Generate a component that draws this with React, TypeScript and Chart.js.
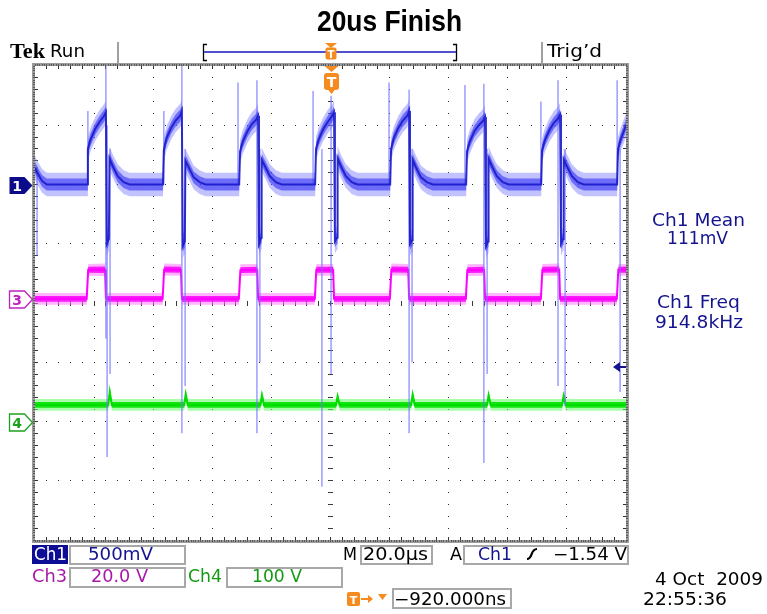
import React, { useEffect, useRef } from 'react';
import { Chart, registerables } from 'chart.js';

Chart.register(...registerables);

const W = 767;
const H = 614;

// ---------- scope settings ----------
const TIME_MIN_US = -100; // 10 div x 20 µs/div, trigger at centre
const TIME_MAX_US = 100;
const CH1_VOLTS_PER_DIV = 0.5;
const CH1_POSITION_DIV = 2;
const CH3_VOLTS_PER_DIV = 20;
const CH3_POSITION_DIV = 0.07;
const CH4_VOLTS_PER_DIV = 100;
const CH4_POSITION_DIV = -2;
const CH1_TRIGGER_V = -1.54;

// ---------- Ch1 (500 mV/div) ----------
const ch1TimeUs = [
  -100, -99.0, -97.6, -96.0,
  -82.4, -82.1, -81.2, -79.6, -78.1, -76.6, -76.0, -75.7, -75.0, -74.8, -73.6, -72.0, -70.0, -68.0,
  -56.7, -56.4, -55.5, -53.9, -52.4, -50.9, -50.3, -50.0, -49.3, -49.1, -47.9, -46.3, -44.3, -42.3,
  -30.9, -30.6, -29.7, -28.1, -26.6, -25.1, -24.5, -24.2, -23.5, -23.3, -22.1, -20.5, -18.5, -16.5,
  -5.2, -4.9, -4.0, -2.4, -0.9, 0.6, 1.2, 1.5, 2.2, 2.4, 3.6, 5.2, 7.2, 9.2,
  20.2, 20.5, 21.4, 23.0, 24.5, 26.0, 26.6, 26.9, 27.6, 27.8, 29.0, 30.6, 32.6, 34.6,
  45.9, 46.2, 47.1, 48.7, 50.2, 51.7, 52.3, 52.6, 53.3, 53.5, 54.7, 56.3, 58.3, 60.3,
  71.3, 71.6, 72.5, 74.1, 75.6, 77.1, 77.7, 78.0, 78.7, 78.9, 80.1, 81.7, 83.7, 85.7,
  97.0, 97.3, 98.2, 100,
];
const ch1Volts = [
  0.14, 0.09, 0.03, 0,
  0, 0.30, 0.38, 0.47, 0.53, 0.58, 0.61, -0.50, -0.46, 0.22, 0.15, 0.07, 0.02, 0,
  0, 0.29, 0.39, 0.48, 0.54, 0.58, 0.62, -0.52, -0.48, 0.20, 0.14, 0.06, 0.02, 0,
  0, 0.28, 0.36, 0.45, 0.51, 0.55, 0.58, -0.50, -0.45, 0.21, 0.15, 0.07, 0.02, 0,
  0, 0.30, 0.38, 0.47, 0.53, 0.58, 0.61, -0.48, -0.45, 0.22, 0.15, 0.07, 0.02, 0,
  0, 0.30, 0.39, 0.48, 0.54, 0.58, 0.62, -0.50, -0.47, 0.21, 0.14, 0.06, 0.02, 0,
  0, 0.28, 0.36, 0.45, 0.50, 0.54, 0.57, -0.52, -0.48, 0.22, 0.15, 0.07, 0.02, 0,
  0, 0.29, 0.37, 0.46, 0.52, 0.56, 0.59, -0.50, -0.46, 0.21, 0.15, 0.07, 0.02, 0,
  0, 0.30, 0.38, 0.50,
];

// Ch1 switching spikes (thin vertical excursions)
const ch1SpikeTimeUs = [-99.3, -82.1, -76.0, -75.6, -74.6, -56.4, -50.3, -49.2, -31.3, -24.9, -23.9, -5.9, -2.9, 0.2, 19.8, 26.6, 27.6, 45.5, 51.9, 53.0, 71.2, 77.0, 79.4, 97.0, 98.0];
const ch1SpikeTopV = [0.15, 0.62, 1.0, 0.5, 0.3, 0.62, 1.0, 0.3, 0.86, 0.88, 0.3, 0.79, 0.3, 0.75, 0.86, 0.80, 0.3, 0.84, 0.85, 0.3, 0.70, 0.88, 0.3, 0.88, 0.3];
const ch1SpikeBottomV = [-0.6, 0, -1.3, -2.3, -1.6, 0, -2.1, -1.7, 0, -2.1, -1.5, 0, -2.55, -1.6, 0, -2.1, -1.5, 0, -2.35, -1.6, 0, -1.7, -1.87, 0, -1.75];

// ---------- Ch3 (20 V/div) ----------
const ch3TimeUs = [
  -100, -82.5, -82.0, -76.3, -76.0,
  -56.8, -56.3, -50.6, -50.3,
  -31.0, -30.5, -24.8, -24.5,
  -5.3, -4.8, 0.9, 1.2,
  20.1, 20.6, 26.3, 26.6,
  45.8, 46.3, 52.0, 52.3,
  71.2, 71.7, 77.4, 77.7,
  96.9, 97.4, 100,
];
const ch3Volts = [
  0, 0, 9.8, 9.9, 0,
  0, 9.9, 9.8, 0,
  0, 9.7, 9.8, 0,
  0, 9.8, 9.8, 0,
  0, 9.9, 9.8, 0,
  0, 9.7, 9.8, 0,
  0, 9.8, 9.9, 0,
  0, 9.8, 9.8,
];

// ---------- Ch4 (100 V/div) ----------
const ch4TimeUs = [-100, -75.2, -74.7, -74.0, -49.5, -49.0, -48.3, -23.7, -23.2, -22.5, 1.9, 2.4, 3.1, 27.3, 27.8, 28.5, 53.0, 53.5, 54.2, 78.4, 78.9, 79.6, 100];
const ch4Volts = [28, 28, 50, 28, 28, 46, 28, 28, 44, 28, 28, 42, 28, 28, 45, 28, 28, 44, 28, 28, 43, 28, 28];

// ---------- readout texts ----------
const TITLE = '20us Finish';
const CH1_SCALE_TEXT = '500mV';
const CH3_SCALE_TEXT = '20.0 V';
const CH4_SCALE_TEXT = '100 V';
const TIMEBASE_TEXT = '20.0µs';
const TRIGGER_TEXT = '\u22121.54 V';
const DELAY_TEXT = '\u2212920.000ns';
const DATE_TEXT = '4 Oct  2009';
const TIME_TEXT = '22:55:36';
const MEAS = [
  ['Ch1 Mean', '111mV'],
  ['Ch1 Freq', '914.8kHz'],
];

// ---------- helpers ----------
function toPoints(times: number[], volts: number[], vpd: number, pos: number, offsetDiv = 0) {
  return times.map((t, i) => ({ x: t, y: pos + volts[i] / vpd + offsetDiv }));
}

function spikePoints() {
  const out: any[] = [];
  ch1SpikeTimeUs.forEach((t, i) => {
    out.push({ x: t, y: CH1_POSITION_DIV + ch1SpikeTopV[i] / CH1_VOLTS_PER_DIV });
    out.push({ x: t, y: CH1_POSITION_DIV + ch1SpikeBottomV[i] / CH1_VOLTS_PER_DIV });
    out.push({ x: t, y: null });
  });
  return out;
}

function band(times: number[], volts: number[], vpd: number, pos: number, half: number, color: string, order: number) {
  return [
    { data: toPoints(times, volts, vpd, pos, half), borderWidth: 0, borderColor: 'transparent', fill: false, order, pointRadius: 0 },
    { data: toPoints(times, volts, vpd, pos, -half), borderWidth: 0, borderColor: 'transparent', fill: '-1', backgroundColor: color, order, pointRadius: 0 },
  ];
}

function txt(ctx: CanvasRenderingContext2D, s: string, x: number, y: number, font: string, color: string, w?: number) {
  ctx.save();
  ctx.font = font;
  ctx.fillStyle = color;
  ctx.textAlign = 'left';
  ctx.textBaseline = 'alphabetic';
  if (w) {
    const m = ctx.measureText(s).width || 1;
    ctx.translate(x, y);
    ctx.scale(w / m, 1);
    ctx.fillText(s, 0, 0);
  } else {
    ctx.fillText(s, x, y);
  }
  ctx.restore();
}

function rrect(ctx: CanvasRenderingContext2D, x: number, y: number, w: number, h: number, r: number) {
  ctx.beginPath();
  ctx.moveTo(x + r, y);
  ctx.lineTo(x + w - r, y);
  ctx.quadraticCurveTo(x + w, y, x + w, y + r);
  ctx.lineTo(x + w, y + h - r);
  ctx.quadraticCurveTo(x + w, y + h, x + w - r, y + h);
  ctx.lineTo(x + r, y + h);
  ctx.quadraticCurveTo(x, y + h, x, y + h - r);
  ctx.lineTo(x, y + r);
  ctx.quadraticCurveTo(x, y, x + r, y);
  ctx.closePath();
}

const ORANGE = '#f58a1f';
const NAVY = '#14148f';
const MAGENTA_TXT = '#a818a8';
const GREEN_TXT = '#139a13';
const RO_FONT = '17px "DejaVu Sans"';

const bgPlugin = {
  id: 'tekBg',
  beforeDraw(chart: any) {
    const ctx = chart.ctx;
    ctx.save();
    ctx.fillStyle = '#ffffff';
    ctx.fillRect(0, 0, chart.width, chart.height);
    ctx.restore();
  },
};

const gridPlugin = {
  id: 'tekGrid',
  beforeDatasetsDraw(chart: any) {
    const ctx = chart.ctx;
    const { left: l, top: t, right: r, bottom: b } = chart.chartArea;
    const dx = (r - l) / 10;
    const dy = (b - t) / 8;
    ctx.save();
    ctx.fillStyle = '#2a2a2a';
    for (let i = 1; i < 10; i++) {
      const x = Math.floor(l + i * dx);
      for (let k = 1; k < 40; k++) ctx.fillRect(x, Math.floor(t + (k * dy) / 5), 1, 1);
    }
    for (let j = 1; j < 8; j++) {
      const y = Math.floor(t + j * dy);
      for (let k = 1; k < 50; k++) ctx.fillRect(Math.floor(l + (k * dx) / 5), y, 1, 1);
    }
    // centre cross ticks
    const cx = Math.floor(l + 5 * dx);
    const cy = Math.floor(t + 4 * dy);
    ctx.fillStyle = '#3a3a3a';
    for (let k = 1; k < 40; k++) ctx.fillRect(cx - 2, Math.floor(t + (k * dy) / 5), 5, 1);
    for (let k = 1; k < 50; k++) ctx.fillRect(Math.floor(l + (k * dx) / 5), cy - 2, 1, 5);
    // frame
    ctx.fillStyle = '#9a9a9a';
    ctx.fillRect(l - 3, t - 3, r - l + 6, 3);
    ctx.fillRect(l - 3, b, r - l + 6, 3);
    ctx.fillRect(l - 3, t - 3, 3, b - t + 6);
    ctx.fillRect(r, t - 3, 3, b - t + 6);
    // fine comb on frame
    ctx.fillStyle = '#5a5a5a';
    for (let k = 0; k <= 250; k++) {
      const x = Math.floor(l + (k * dx) / 25);
      ctx.fillRect(x, t - 2, 1, 2);
      ctx.fillRect(x, b, 1, 2);
    }
    for (let k = 0; k <= 200; k++) {
      const y = Math.floor(t + (k * dy) / 25);
      ctx.fillRect(l - 2, y, 2, 1);
      ctx.fillRect(r, y, 2, 1);
    }
    // 0.2 div ticks inward
    ctx.fillStyle = '#333';
    for (let k = 1; k < 50; k++) {
      const x = Math.floor(l + (k * dx) / 5);
      ctx.fillRect(x, t, 1, 3);
      ctx.fillRect(x, b - 3, 1, 3);
    }
    for (let k = 1; k < 40; k++) {
      const y = Math.floor(t + (k * dy) / 5);
      ctx.fillRect(l, y, 3, 1);
      ctx.fillRect(r - 3, y, 3, 1);
    }
    ctx.restore();
  },
};

const markerPlugin = {
  id: 'tekMarkers',
  afterDatasetsDraw(chart: any) {
    const ctx = chart.ctx;
    const xS = chart.scales.x;
    const yS = chart.scales.y;
    const top = chart.chartArea.top;
    ctx.save();
    // channel ground markers
    const marker = (level: number, label: string, fill: string, stroke: string | null, tc: string) => {
      const y = Math.round(yS.getPixelForValue(level)) + 0.5;
      ctx.beginPath();
      ctx.moveTo(9.5, y - 8.5);
      ctx.lineTo(24.5, y - 8.5);
      ctx.lineTo(32.5, y);
      ctx.lineTo(24.5, y + 8.5);
      ctx.lineTo(9.5, y + 8.5);
      ctx.closePath();
      ctx.fillStyle = fill;
      ctx.fill();
      if (stroke) {
        ctx.strokeStyle = stroke;
        ctx.lineWidth = 1.3;
        ctx.stroke();
      }
      ctx.font = 'bold 14px "DejaVu Sans"';
      ctx.fillStyle = tc;
      ctx.textAlign = 'center';
      ctx.textBaseline = 'alphabetic';
      ctx.fillText(label, 17, y + 5.5);
    };
    marker(CH1_POSITION_DIV, '1', '#0c0c8a', null, '#ffffff');
    marker(CH3_POSITION_DIV, '3', '#ffffff', '#c020c0', '#c020c0');
    marker(CH4_POSITION_DIV, '4', '#ffffff', '#20a020', '#20a020');

    // trigger position marker (top)
    const xT = xS.getPixelForValue(0) + 1;
    ctx.fillStyle = ORANGE;
    ctx.beginPath();
    ctx.moveTo(xT - 7, top);
    ctx.lineTo(xT + 7, top);
    ctx.lineTo(xT, top + 6);
    ctx.closePath();
    ctx.fill();
    rrect(ctx, xT - 7.5, top + 7, 15, 17, 3);
    ctx.fill();
    ctx.beginPath();
    ctx.moveTo(xT - 4, top + 23);
    ctx.lineTo(xT + 4, top + 23);
    ctx.lineTo(xT, top + 28);
    ctx.closePath();
    ctx.fill();
    ctx.font = 'bold 14px "DejaVu Sans"';
    ctx.fillStyle = '#ffffff';
    ctx.textAlign = 'center';
    ctx.fillText('T', xT, top + 21);

    // trigger level arrow (right)
    const yL = Math.round(yS.getPixelForValue(CH1_POSITION_DIV + CH1_TRIGGER_V / CH1_VOLTS_PER_DIV));
    const rx = chart.chartArea.right;
    ctx.fillStyle = NAVY;
    ctx.beginPath();
    ctx.moveTo(rx - 13, yL);
    ctx.lineTo(rx - 6, yL - 5);
    ctx.lineTo(rx - 6, yL + 5);
    ctx.closePath();
    ctx.fill();
    ctx.fillRect(rx - 7, yL - 1, 7, 2);
    ctx.restore();
  },
};

const overlayPlugin = {
  id: 'tekOverlay',
  afterDraw(chart: any) {
    const ctx: CanvasRenderingContext2D = chart.ctx;
    ctx.save();
    // title
    txt(ctx, TITLE, 317, 31, 'bold 30px "Liberation Sans"', '#000', 145);

    // header bar
    txt(ctx, 'Tek', 10, 58, 'bold 22px "Liberation Serif"', '#000', 35);
    txt(ctx, 'Run', 50, 57, RO_FONT, '#000', 35);
    txt(ctx, 'Trig\u2019d', 547, 57, RO_FONT, '#000', 55);
    ctx.fillStyle = '#a0a0a0';
    ctx.fillRect(117, 42, 2, 21);
    ctx.fillRect(541, 42, 2, 21);
    // record view bracket
    ctx.strokeStyle = '#000';
    ctx.lineWidth = 1.3;
    ctx.beginPath();
    ctx.moveTo(207, 44.5); ctx.lineTo(203.5, 44.5); ctx.lineTo(203.5, 60.5); ctx.lineTo(207, 60.5);
    ctx.moveTo(453, 44.5); ctx.lineTo(456.5, 44.5); ctx.lineTo(456.5, 60.5); ctx.lineTo(453, 60.5);
    ctx.stroke();
    ctx.fillStyle = '#5050cc';
    ctx.fillRect(204, 51, 252, 2);
    // small T in record bar
    ctx.fillStyle = ORANGE;
    ctx.beginPath();
    ctx.moveTo(325, 43); ctx.lineTo(337, 43); ctx.lineTo(331, 48); ctx.closePath();
    ctx.fill();
    rrect(ctx, 325.5, 47.5, 11, 12, 2);
    ctx.fill();
    ctx.font = 'bold 10px "DejaVu Sans"';
    ctx.fillStyle = '#fff';
    ctx.textAlign = 'center';
    ctx.fillText('T', 331, 57.5);
    ctx.textAlign = 'left';

    // footer boxes
    ctx.strokeStyle = '#a8a8a8';
    ctx.lineWidth = 2;
    const box = (x0: number, y0: number, x1: number, y1: number) => ctx.strokeRect(x0, y0, x1 - x0, y1 - y0);
    box(70, 546, 185, 564);
    box(361, 546, 432, 564);
    box(464, 546, 628, 564);
    box(70, 568, 185, 587);
    box(227, 568, 342, 587);
    box(393, 589, 511, 608);
    ctx.fillStyle = '#0c0c96';
    ctx.fillRect(32, 545, 36, 19);

    // row 1
    txt(ctx, 'Ch1', 34, 560, RO_FONT, '#ffffff', 33);
    txt(ctx, CH1_SCALE_TEXT, 88, 560, RO_FONT, NAVY, 65);
    txt(ctx, 'M', 343, 560, RO_FONT, '#000', 14);
    txt(ctx, TIMEBASE_TEXT, 363, 560, RO_FONT, '#000', 65);
    txt(ctx, 'A', 450, 560, RO_FONT, '#000', 12);
    txt(ctx, 'Ch1', 478, 560, RO_FONT, NAVY, 34);
    ctx.strokeStyle = '#000';
    ctx.lineWidth = 2.2;
    ctx.beginPath();
    ctx.moveTo(527, 559);
    ctx.bezierCurveTo(533, 559, 530, 549, 537, 549);
    ctx.stroke();
    txt(ctx, TRIGGER_TEXT, 553, 560, RO_FONT, '#000', 74);
    // row 2
    txt(ctx, 'Ch3', 32, 582, RO_FONT, MAGENTA_TXT, 35);
    txt(ctx, CH3_SCALE_TEXT, 91, 582, RO_FONT, MAGENTA_TXT, 57);
    txt(ctx, 'Ch4', 188, 582, RO_FONT, GREEN_TXT, 34);
    txt(ctx, CH4_SCALE_TEXT, 252, 582, RO_FONT, GREEN_TXT, 50);
    // row 3: trigger delay icon
    ctx.fillStyle = ORANGE;
    rrect(ctx, 347, 592, 13, 14, 2);
    ctx.fill();
    ctx.font = 'bold 11px "DejaVu Sans"';
    ctx.fillStyle = '#fff';
    ctx.textAlign = 'center';
    ctx.fillText('T', 353.5, 603.5);
    ctx.textAlign = 'left';
    ctx.fillStyle = ORANGE;
    ctx.fillRect(361, 598, 8, 2);
    ctx.beginPath();
    ctx.moveTo(368, 595); ctx.lineTo(373, 599); ctx.lineTo(368, 603); ctx.closePath();
    ctx.fill();
    ctx.beginPath();
    ctx.moveTo(378, 594); ctx.lineTo(387, 594); ctx.lineTo(382.5, 600); ctx.closePath();
    ctx.fill();
    txt(ctx, DELAY_TEXT, 394, 605, RO_FONT, '#000', 112);
    txt(ctx, DATE_TEXT, 655, 585, RO_FONT, '#000', 108);
    txt(ctx, TIME_TEXT, 643, 605, RO_FONT, '#000', 84);

    // measurements
    txt(ctx, MEAS[0][0], 652, 226, RO_FONT, NAVY, 93);
    txt(ctx, MEAS[0][1], 667, 244, RO_FONT, NAVY, 61);
    txt(ctx, MEAS[1][0], 657, 308, RO_FONT, NAVY, 83);
    txt(ctx, MEAS[1][1], 655, 328, RO_FONT, NAVY, 88);
    ctx.restore();
  },
};

export default function App() {
  const ref = useRef<HTMLCanvasElement | null>(null);

  useEffect(() => {
    if (!ref.current) return;
    const datasets: any[] = [
      // Ch1 (top-most)
      ...band(ch1TimeUs, ch1Volts, CH1_VOLTS_PER_DIV, CH1_POSITION_DIV, 0.2, 'rgba(120,120,255,0.45)', 12),
      ...band(ch1TimeUs, ch1Volts, CH1_VOLTS_PER_DIV, CH1_POSITION_DIV, 0.1, 'rgba(50,50,245,0.6)', 11),
      { data: toPoints(ch1TimeUs, ch1Volts, CH1_VOLTS_PER_DIV, CH1_POSITION_DIV), borderColor: 'rgba(25,25,200,0.9)', borderWidth: 2, fill: false, order: 10, pointRadius: 0 },
      { data: spikePoints(), borderColor: 'rgba(115,115,255,0.7)', borderWidth: 1.5, fill: false, order: 13, pointRadius: 0, spanGaps: false },
      // Ch3
      ...band(ch3TimeUs, ch3Volts, CH3_VOLTS_PER_DIV, CH3_POSITION_DIV, 0.1, 'rgba(255,120,255,0.55)', 22),
      ...band(ch3TimeUs, ch3Volts, CH3_VOLTS_PER_DIV, CH3_POSITION_DIV, 0.05, 'rgba(250,0,250,0.85)', 21),
      { data: toPoints(ch3TimeUs, ch3Volts, CH3_VOLTS_PER_DIV, CH3_POSITION_DIV), borderColor: '#ff00ff', borderWidth: 2, fill: false, order: 20, pointRadius: 0 },
      // Ch4
      ...band(ch4TimeUs, ch4Volts, CH4_VOLTS_PER_DIV, CH4_POSITION_DIV, 0.1, 'rgba(110,255,110,0.6)', 32),
      ...band(ch4TimeUs, ch4Volts, CH4_VOLTS_PER_DIV, CH4_POSITION_DIV, 0.05, 'rgba(0,225,0,0.9)', 31),
      { data: toPoints(ch4TimeUs, ch4Volts, CH4_VOLTS_PER_DIV, CH4_POSITION_DIV), borderColor: '#00dd00', borderWidth: 2, fill: false, order: 30, pointRadius: 0 },
    ];

    const chart = new Chart(ref.current, {
      type: 'line',
      data: { datasets },
      options: {
        responsive: false,
        animation: false,
        events: [],
        devicePixelRatio: 1,
        layout: { padding: { left: 35, top: 66, right: W - 626, bottom: H - 540 } },
        scales: {
          x: { type: 'linear', min: TIME_MIN_US, max: TIME_MAX_US, display: false },
          y: { type: 'linear', min: -4, max: 4, display: false },
        },
        plugins: {
          legend: { display: false },
          tooltip: { enabled: false },
          title: { display: false },
        },
        elements: { point: { radius: 0 }, line: { tension: 0 } },
      } as any,
      plugins: [bgPlugin, gridPlugin, markerPlugin, overlayPlugin],
    });
    return () => chart.destroy();
  }, []);

  return (
    <div style={{ position: 'absolute', left: 0, top: 0, width: W, height: H, background: '#fff' }}>
      <canvas ref={ref} width={W} height={H} style={{ display: 'block', width: W, height: H }} />
    </div>
  );
}
